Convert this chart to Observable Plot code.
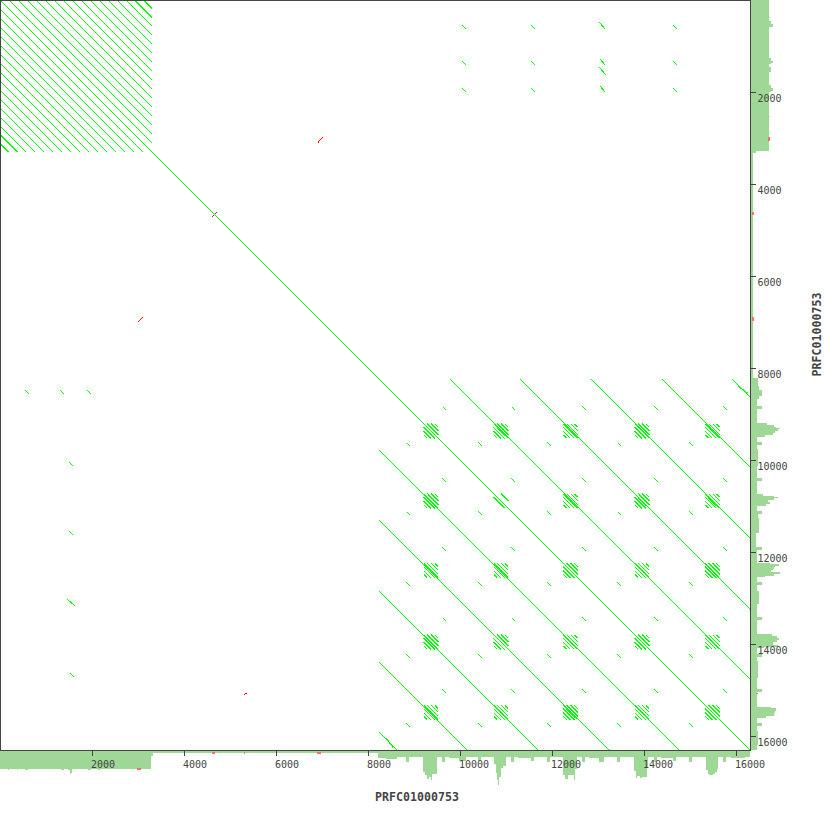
<!DOCTYPE html>
<html><head><meta charset="utf-8">
<script src="https://cdn.jsdelivr.net/npm/d3@7"></script>
<script src="https://cdn.jsdelivr.net/npm/@observablehq/plot@0.6"></script>
<style>html,body{margin:0;padding:0;background:#fff}svg{display:block}</style>
</head><body><div id="chart"></div>
<script>
const seqLabel = "PRFC01000753";
const seqEnd = 16315;
const ticks = [2000,4000,6000,8000,10000,12000,14000,16000];

// tandem block at the start of the sequence
const tandemEnd = 3304;
const tandemOffsets = [196,391,587,783,978,1174,1370,1565,1761,1957,2152,2348,2543,2739,2924,3120];

// repeat block at the end of the sequence
const blockStart = 8235;
const blockOffsets = [1543,3065,4609,6152,7674];

// hatched clusters
const clusterCols = [9370,10891,12402,13957,15489];
const hatchOffsets = [-240,-160,-80,0,80,160,240];
const hatchHalf = [35,80,120,152,120,80,35];

// dense centres of some clusters
const denseX = [10891,9370,10891,12402,13957,15489];
const denseY = [9370,10891,12402,15489,10891,10891];

// short secondary hits in the block
const minorColsA = [9620,11120,12663,14228,15728];
const minorRowsA = [8837,10402,11902,13424,14989];
const minorColsB = [8837,10402,11902,13424,14989];
const minorRowsB = [9620,11120,12663,14228,15728];
const minorLen = 80;

// isolated forward hits
const hitX1 = [10054,11554,13033,14641, 10054,11554,13033,13033,14641, 10054,11554,13033,14641, 554,1315,1902, 1511,1511,1467,1533, 16054,8402];
const hitY1 = [554,554,489,554, 1337,1337,1272,1467,1337, 1924,1924,1859,1924, 8489,8489,8489, 10054,11554,13033,14641, 8402,16054];
const hitX2 = [10141,11641,13163,14728, 10141,11641,13163,13163,14728, 10141,11641,13163,14728, 641,1402,1989, 1598,1598,1620,1620, 16250,8540];
const hitY2 = [641,641,641,641, 1424,1424,1424,1620,1424, 2011,2011,2011,2011, 8576,8576,8576, 10141,11641,13163,14728, 8540,16250];

// reverse-strand hits
const revX1 = [6910,2996,4620,5315];
const revY1 = [3098,7004,4707,15098];
const revX2 = [7011,3098,4707,5380];
const revY2 = [2989,6902,4620,15054];

// hit coverage along the horizontal sequence
const covXStart = [0,185,207,380,402,554,620,1337,1402,1489,1533,1554,1576,1924,1989,2141,2185,3294,3337,8228,8402,8641,8837,8902,9207,9250,9294,9337,9381,9402,9511,9620,9685,9772,9989,10141,10402,10468,10750,10794,10815,10837,10859,10902,10946,11011,11120,11185,11272,11554,11620,11902,11967,12250,12294,12359,12446,12489,12511,12554,12663,12728,12815,13033,13141,13424,13489,13793,13837,13859,13924,13967,14076,14098,14228,14293,14380,14641,14707,14989,15054,15359,15402,15424,15511,15554,15598,15620,15728,15793,15902,16207];
const covXDepth = [19,20,19,20,19,20,19,20,19,20,24,23,19,20,19,20,19,6,3,8,9,7,12,7,22,25,29,27,30,24,7,12,7,8,11,7,11,7,14,23,30,35,27,18,16,7,12,7,8,11,7,12,7,25,29,25,25,30,19,7,12,7,8,12,7,12,7,21,28,26,28,27,17,7,12,7,8,11,7,12,7,20,24,25,24,22,19,7,12,7,8,7];

// hit coverage along the vertical sequence
const covYStart = [0,380,402,467,533,598,1272,1337,1380,1402,1467,1576,1859,1924,1989,2011,2533,2554,3294,3337,8228,8402,8489,8620,8685,8837,8902,9207,9250,9294,9315,9337,9381,9424,9467,9511,9620,9685,9772,10141,10402,10468,10750,10794,10815,10837,10880,10924,10967,11011,11120,11185,11272,11598,11902,11967,12250,12272,12315,12337,12380,12402,12446,12489,12533,12554,12663,12728,12859,13141,13424,13489,13793,13837,13880,13924,13967,14033,14076,14098,14228,14293,14380,14750,14989,15054,15380,15402,15467,15511,15576,15620,15728,15793,15902,16207];
const covYDepth = [19,20,19,21,23,19,21,23,21,19,21,19,21,23,21,19,20,19,6,3,8,9,12,9,7,12,7,17,24,26,30,28,25,23,15,7,12,7,8,7,12,7,13,24,28,24,18,20,16,7,12,8,9,6,12,7,20,29,25,24,23,21,30,24,15,7,12,7,9,7,12,7,22,27,29,27,23,28,14,7,12,7,8,7,12,7,21,26,25,24,16,7,12,7,8,7];

// reverse-strand coverage marks
const revCovStart = [2989,4620,5315,6902];
const revCovEnd   = [3076,4685,5337,6989];
const revCovFrom  = [18,2,2,2];
const revCovTo    = [20,4,4,4];
const revCovRowStart = [2989,4620,6902,15076];
const revCovRowEnd   = [3076,4685,6989,15098];
const revCovRowFrom  = [18,2,2,6];
const revCovRowTo    = [20,4,4,8];

const bpPerPx = 1 / 0.046;
const fullSpan = 830 * bpPerPx;
const GREEN = "#00ff00", RED = "#ff0000", COV = "#9fd896", COVRED = "#ff6e6e", INK = "#444444";
const MONO = "'DejaVu Sans Mono', monospace";

// build the forward hit table
const forward = [];
const add = (x1,y1,x2,y2) => forward.push({x1,y1,x2,y2});
add(0,0,seqEnd,seqEnd);
tandemOffsets.forEach(o => { add(o,0,tandemEnd,tandemEnd-o); add(0,o,tandemEnd-o,tandemEnd); });
blockOffsets.forEach(o => { add(blockStart+o,blockStart,seqEnd,seqEnd-o); add(blockStart,blockStart+o,seqEnd-o,seqEnd); });
clusterCols.forEach(cx => clusterCols.forEach(cy => {
  const sparse = cx === 10891 && cy === 10891;
  hatchOffsets.forEach((o,i) => {
    if (sparse && i % 3 !== 1) return;
    const h = hatchHalf[i];
    add(cx-o/2-h, cy+o/2-h, cx-o/2+h, cy+o/2+h);
  });
}));
denseX.forEach((cx,i) => {
  const cy = denseY[i];
  add(cx-90,cy-90+22,cx+90,cy+90+22);
});
minorColsA.forEach(x => minorRowsA.forEach(y => add(x,y,x+minorLen,y+minorLen)));
minorColsB.forEach(x => minorRowsB.forEach(y => add(x,y,x+minorLen,y+minorLen)));
hitX1.forEach((x,i) => add(x,hitY1[i],hitX2[i],hitY2[i]));

const reverse = revX1.map((x,i) => ({x1:x,y1:revY1[i],x2:revX2[i],y2:revY2[i]}));

const covBottom = covXStart.map((s,i) => ({s, e: covXStart[i+1] ?? seqEnd, d: covXDepth[i]}));
const covRight  = covYStart.map((s,i) => ({s, e: covYStart[i+1] ?? seqEnd, d: covYDepth[i]}));
const depthY = d => seqEnd + d * bpPerPx;
const redBottom = revCovStart.map((s,i) => ({s, e: revCovEnd[i], a: revCovFrom[i], b: revCovTo[i]}));
const redRight = revCovRowStart.map((s,i) => ({s, e: revCovRowEnd[i], a: revCovRowFrom[i], b: revCovRowTo[i]}));

const chart = Plot.plot({
  width: 830, height: 830,
  marginTop: 0, marginRight: 0, marginBottom: 0, marginLeft: 0,
  x: {domain: [0, fullSpan], range: [-0.5, 829.5], axis: null},
  y: {domain: [0, fullSpan], range: [-0.5, 829.5], axis: null},
  style: {background: "#fff"},
  marks: [
    Plot.rect(covBottom, {x1:"s", x2:"e", y1: seqEnd, y2: d => depthY(d.d), fill: COV, shapeRendering:"crispEdges"}),
    Plot.rect(covRight, {y1:"s", y2:"e", x1: seqEnd, x2: d => depthY(d.d), fill: COV, shapeRendering:"crispEdges"}),
    Plot.rect(redBottom, {x1:"s", x2:"e", y1: d => depthY(d.a), y2: d => depthY(d.b), fill: COVRED, shapeRendering:"crispEdges"}),
    Plot.rect(redRight, {y1:"s", y2:"e", x1: d => depthY(d.a), x2: d => depthY(d.b), fill: COVRED, shapeRendering:"crispEdges"}),
    Plot.link(reverse, {x1:"x1", y1:"y1", x2:"x2", y2:"y2", stroke: RED, strokeWidth: 1, shapeRendering:"crispEdges"}),
    Plot.link(forward, {x1:"x1", y1:"y1", x2:"x2", y2:"y2", stroke: GREEN, strokeWidth: 1, shapeRendering:"crispEdges"}),
    Plot.rect([{a: 0.5*bpPerPx+10.87, b: 750.5*bpPerPx+10.87}], {x1:"a", x2:"b", y1:"a", y2:"b", fill:"none", stroke: INK, strokeWidth: 1, shapeRendering:"crispEdges"}),
    Plot.ruleX(ticks, {x: d => d, y1: seqEnd, y2: depthY(6), stroke: INK, strokeWidth: 1, shapeRendering:"crispEdges"}),
    Plot.ruleY(ticks, {y: d => d, x1: seqEnd, x2: depthY(6), stroke: INK, strokeWidth: 1, shapeRendering:"crispEdges"}),
    Plot.text(ticks, {x: d => d, y: depthY(14), text: d => String(d), textAnchor:"start", lineAnchor:"middle", dx:-1, fontFamily: MONO, fontSize: 10, fill: INK}),
    Plot.text(ticks, {y: d => d, x: depthY(7), text: d => String(d), textAnchor:"start", lineAnchor:"middle", dy:6.5, fontFamily: MONO, fontSize: 10, fill: INK}),
    Plot.text([seqLabel], {x: 9065, y: depthY(47), text: d => d, textAnchor:"middle", lineAnchor:"middle", fontFamily: MONO, fontWeight:"bold", fontSize: 11.6, fill: INK}),
    Plot.text([seqLabel], {x: depthY(67), y: 7272, text: d => d, rotate: -90, textAnchor:"middle", lineAnchor:"middle", fontFamily: MONO, fontWeight:"bold", fontSize: 11.6, fill: INK})
  ]
});
document.getElementById("chart").appendChild(chart);
</script>
</body></html>
